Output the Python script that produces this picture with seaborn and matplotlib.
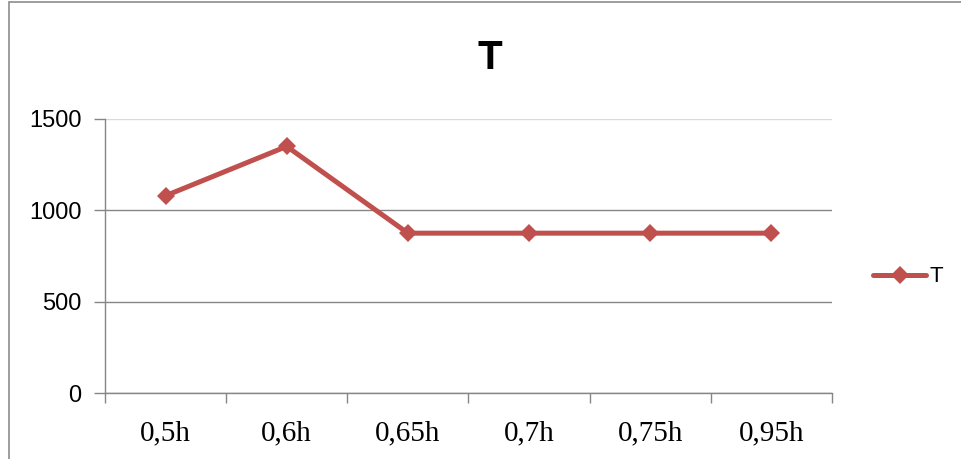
"""Line chart of T over relative height, Excel style."""
import pandas as pd
import matplotlib
matplotlib.use('Agg')
import matplotlib.pyplot as plt
from matplotlib.patches import Rectangle
import seaborn as sns

categories = ['0,5h', '0,6h', '0,65h', '0,7h', '0,75h', '0,95h']
t_values = [1080, 1350, 875, 875, 875, 875]
y_ticks = [0, 500, 1000, 1500]

LINE_RED = '#C0504D'
GRID_GREY = '#868686'


def make_plot(df: pd.DataFrame) -> None:
    sns.set_style('white')
    plt.rcParams['font.family'] = ['Liberation Sans', 'DejaVu Sans']
    plt.rcParams['text.color'] = 'black'
    plt.rcParams['xtick.color'] = 'black'
    plt.rcParams['ytick.color'] = 'black'

    fig = plt.figure(figsize=(9.61, 4.59), dpi=100)
    ax = fig.add_axes([105 / 961, 1 - 393 / 459, 727 / 961, 274 / 459])

    sns.lineplot(data=df, x='pos', y='T', ax=ax, sort=False,
                 color=LINE_RED, linewidth=3.6, marker='D',
                 markersize=9.5, markeredgewidth=0, label='T', legend=False)

    ax.set_xlim(-0.5, len(categories) - 0.5)
    ax.set_ylim(0, 1500)
    ax.set_xlabel('')
    ax.set_ylabel('')

    # category labels in the middle, tick marks between categories
    ax.set_xticks(range(len(categories)))
    ax.set_xticklabels(categories, family='Liberation Serif', fontsize=21)
    ax.set_xticks([i - 0.5 for i in range(len(categories) + 1)], minor=True)
    ax.tick_params(axis='x', which='both', bottom=True)
    ax.tick_params(axis='x', which='major', length=0, pad=20)
    ax.tick_params(axis='x', which='minor', length=7, width=1,
                   color=GRID_GREY, direction='out')

    ax.set_yticks(y_ticks)
    ax.set_yticklabels([str(v) for v in y_ticks], fontsize=17)
    ax.tick_params(axis='y', left=True, length=8, width=1, color=GRID_GREY,
                   labelcolor='black', direction='out', pad=9)

    ax.yaxis.grid(True, color=GRID_GREY, linewidth=1)
    ax.get_ygridlines()[-1].set_color('#d9d9d9')
    ax.set_axisbelow(True)
    for side in ['top', 'right']:
        ax.spines[side].set_visible(False)
    for side in ['left', 'bottom']:
        ax.spines[side].set_color(GRID_GREY)
        ax.spines[side].set_linewidth(1)

    fig.text(490 / 961, 1 - 58 / 459, 'T', ha='center', va='center',
             fontsize=29, fontweight='bold', color='black')

    handles, labels = ax.get_legend_handles_labels()
    leg = fig.legend(handles, labels, loc='center left',
                     bbox_to_anchor=(853 / 961, 1 - 277 / 459), frameon=False,
                     fontsize=16, handlelength=2.4, handletextpad=0.15)
    for text in leg.get_texts():
        text.set_color('black')

    # outer chart border
    fig.patches.append(Rectangle((9 / 961, -0.05), 1.0, 1 - 2 / 459 + 0.05,
                                 transform=fig.transFigure, fill=False,
                                 edgecolor='#8c8c8c', linewidth=1.2))

    fig.savefig('out.png', dpi=100)


def main() -> None:
    df = pd.DataFrame({'pos': range(len(categories)), 'T': t_values})
    make_plot(df)


if __name__ == '__main__':
    main()
